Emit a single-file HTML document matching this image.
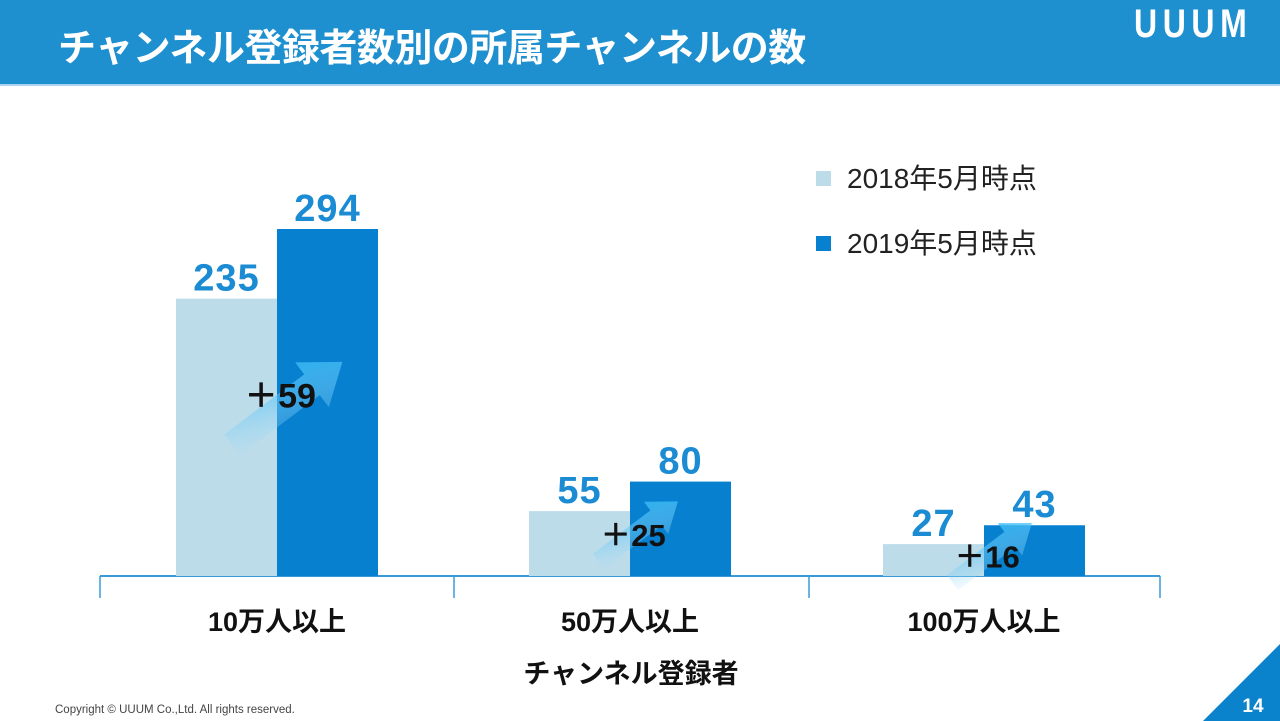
<!DOCTYPE html>
<html><head><meta charset="utf-8"><style>
body{margin:0;width:1280px;height:721px;overflow:hidden;background:#fff;font-family:"Liberation Sans","Noto Sans CJK JP",sans-serif;position:relative}
#hdr{position:absolute;left:0;top:0;width:1280px;height:84px;background:#1e8fcf;border-bottom:2px solid #a9d3ee}
#title{position:absolute;left:58px;top:17px;font-size:38px;font-weight:bold;color:#fff;letter-spacing:-0.5px;white-space:nowrap}
#logo{position:absolute;left:1134px;top:2px;font-size:40px;font-weight:bold;color:#fff;letter-spacing:7px;transform:scaleX(0.8);transform-origin:left;white-space:nowrap}
#copy{position:absolute;left:55px;top:704px;font-size:11.5px;color:#444}
svg{position:absolute;left:0;top:0}
</style></head><body>
<div id="hdr"></div>
<div id="title">チャンネル登録者数別の所属チャンネルの数</div>
<div id="logo">UUUM</div>
<div id="copy">Copyright © UUUM Co.,Ltd. All rights reserved.</div>
<svg id="chart" width="1280" height="721">
<defs><linearGradient id="ag" x1="0" y1="1" x2="1" y2="0"><stop offset="0" stop-color="#bfe3f7" stop-opacity="0"/><stop offset="1" stop-color="#1fb2f5"/></linearGradient></defs>
<polygon points="1203,721 1280,644 1280,721" fill="#0a82cc"/>
<text x="1253" y="712" font-size="19" font-weight="bold" fill="#fff" text-anchor="middle">14</text>
</svg>
<script>
const categories=["10万人以上","50万人以上","100万人以上"];
const series2018=[235,55,27];
const series2019=[294,80,43];
const seriesNames=["2018年5月時点","2019年5月時点"];
const svg=document.getElementById('chart');
const NS='http://www.w3.org/2000/svg';
const base=576,scale=347/294;
const y=v=>base-v*scale;
const centers=[277,630,984],bw=101;
function mk(t,a,txt){const e=document.createElementNS(NS,t);for(const k in a)e.setAttribute(k,a[k]);if(txt!=null)e.textContent=txt;svg.appendChild(e);return e;}
let ax=mk('line',{x1:100,x2:1160,y1:base,y2:base,stroke:'#3a9ad8','stroke-width':2});


[100,454,809,1160].forEach(x=>{const t=mk('line',{x1:x,x2:x,y1:base,y2:598,stroke:'#3a9ad8','stroke-width':1.5});

});
categories.forEach((c,i)=>{
 const cx=centers[i];
 const r1=mk('rect',{x:cx-bw,y:y(series2018[i]),width:bw,height:series2018[i]*scale,fill:'#bcdcea'});
 
 
 const r2=mk('rect',{x:cx,y:y(series2019[i]),width:bw,height:series2019[i]*scale,fill:'#0780d0'});
 
 
 const l1=mk('text',{x:cx-bw/2,y:y(series2018[i])-8,'font-size':38,'font-weight':'bold',fill:'#1b8bd3','text-anchor':'middle','letter-spacing':1},String(series2018[i]));
 
 
 const l2=mk('text',{x:cx+bw/2,y:y(series2019[i])-8,'font-size':38,'font-weight':'bold',fill:'#1b8bd3','text-anchor':'middle','letter-spacing':1},String(series2019[i]));
 
 
 const cl=mk('text',{x:cx,y:631,'font-size':27,'font-weight':'bold',fill:'#111','text-anchor':'middle'},c);
 
 
 const lt=y(series2018[i]);
 const ly=lt+(base-lt)*0.35;
 const lx=cx+3;
 const s=i===0?1:0.72;
 const g=mk('g',{transform:`translate(${lx+40*s},${ly-17*s-(i===0?0:8)}) rotate(-37) scale(${s})`});
 
 
 const p=document.createElementNS(NS,'polygon');
 p.setAttribute('points','-110,-13 -10,-13 -10,-28 28,0 -10,28 -10,13 -110,13');
 p.setAttribute('fill','url(#ag)');g.appendChild(p);
 const d=mk('text',{x:lx,y:ly+12,'font-size':i===0?34:31,'font-weight':'bold',fill:'#111','text-anchor':'middle'},'＋'+(series2019[i]-series2018[i]));
 
 
});
const at=mk('text',{x:631,y:683,'font-size':27,'font-weight':'bold',fill:'#111','text-anchor':'middle'},'チャンネル登録者');


const cols=['#bcdcea','#0780d0'];
seriesNames.forEach((n,i)=>{
 const yy=171+i*65;
 const sq=mk('rect',{x:816,y:yy,width:15,height:15,fill:cols[i]});
 
 
 const t=mk('text',{x:847,y:yy+17,'font-size':28,fill:'#222'},n);
 
 
});
</script>
</body></html>
